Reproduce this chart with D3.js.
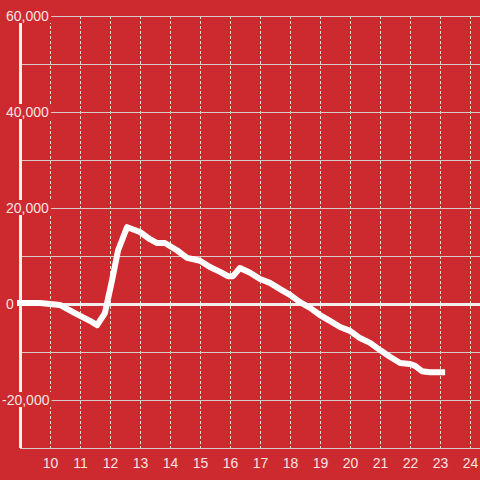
<!DOCTYPE html>
<html>
<head>
<meta charset="utf-8">
<script src="https://cdnjs.cloudflare.com/ajax/libs/d3/7.8.5/d3.min.js"></script>
<style>
  html, body { margin: 0; padding: 0; background: #cd2a30; }
  svg { display: block; }
  text { font-family: "Liberation Sans", Arial, sans-serif; font-size: 14px; fill: #f5e3e3; }
</style>
</head>
<body>
<svg id="chart" width="480" height="480"></svg>
<script>
// hour of day
var hours = [8.9, 9.67, 10.33, 10.83, 11.33, 11.57, 11.83, 12.07, 12.27, 12.57,
  13.0, 13.33, 13.57, 13.83, 14.23, 14.57, 15.0, 15.33, 15.67, 15.93,
  16.1, 16.33, 16.67, 17.0, 17.33, 17.67, 18.0, 18.33, 18.67, 19.0,
  19.33, 19.67, 20.0, 20.33, 20.67, 21.0, 21.33, 21.67, 22.0, 22.17,
  22.4, 22.67, 23.17];
// value
var values = [200, 200, -200, -1900, -3500, -4400, -1900, 5000, 11200, 16000,
  15000, 13500, 12700, 12700, 11200, 9600, 9000, 7700, 6700, 5800,
  5800, 7500, 6500, 5200, 4400, 3100, 1900, 400, -800, -2300,
  -3500, -4800, -5600, -7100, -8100, -9600, -11000, -12300, -12500, -12900,
  -14000, -14200, -14200];
var xTicks = [10, 11, 12, 13, 14, 15, 16, 17, 18, 19, 20, 21, 22, 23, 24];
var yGrid = [-30000, -20000, -10000, 0, 10000, 20000, 30000, 40000, 50000, 60000];
var yLabels = [-20000, 0, 20000, 40000, 60000];

var data = hours.map(function(h, i) { return { h: h, v: values[i] }; });

var svg = d3.select('#chart');
var x = d3.scaleLinear().domain([9, 24.3333]).range([20, 480]);
var y = d3.scaleLinear().domain([-30000, 60000]).range([448, 16]);

//vertical dotted grid
svg.append('g').selectAll('line').data(xTicks).enter()
  .append('line')
  .attr('x1', function(d) { return x(d) + 0.5; })
  .attr('x2', function(d) { return x(d) + 0.5; })
  .attr('y1', y(60000)).attr('y2', y(-30000))
  .style('stroke', '#e8d8d8').style('stroke-width', 1)
  .style('stroke-dasharray', '3,2');

//horizontal grid
svg.append('g').selectAll('line').data(yGrid.filter(function(d) { return d !== 0; })).enter()
  .append('line')
  .attr('x1', x(9)).attr('x2', 480)
  .attr('y1', function(d) { return y(d) + 0.5; })
  .attr('y2', function(d) { return y(d) + 0.5; })
  .style('stroke', '#d9c9c9').style('stroke-width', 1);

//zero line
svg.append('line')
  .attr('x1', x(9)).attr('x2', 480)
  .attr('y1', y(0) + 0.5).attr('y2', y(0) + 0.5)
  .style('stroke', '#f4eeee').style('stroke-width', 3);

//y axis line
svg.append('line')
  .attr('x1', x(9) + 0.5).attr('x2', x(9) + 0.5)
  .attr('y1', y(60000)).attr('y2', y(-30000))
  .style('stroke', '#f4eeee').style('stroke-width', 3);

//y labels with background
var fmt = d3.format(',');
var yl = svg.append('g').selectAll('g').data(yLabels).enter()
  .append('g')
  .attr('transform', function(d) { return 'translate(' + (d < 0 ? 2 : 6) + ',' + y(d) + ')'; });
yl.append('text')
  .attr('dy', '0.35em')
  .text(function(d) { return fmt(d).replace('−', '-'); });
yl.each(function() {
  var t = d3.select(this).select('text');
  var b = t.node().getBBox();
  d3.select(this).insert('rect', 'text')
    .attr('x', b.x - 2).attr('y', -8)
    .attr('width', b.width + 4).attr('height', 15)
    .style('fill', '#cd2a30');
});

//x labels
svg.append('g').selectAll('text').data(xTicks).enter()
  .append('text')
  .attr('x', function(d) { return x(d) + 0.5; })
  .attr('y', 463)
  .attr('dy', '0.35em')
  .attr('text-anchor', 'middle')
  .text(function(d) { return d; });

//data line
var line = d3.line()
  .x(function(d) { return x(d.h); })
  .y(function(d) { return y(d.v); });

svg.append('path')
  .datum(data)
  .attr('d', line)
  .style('fill', 'none')
  .style('stroke', '#ffffff')
  .style('stroke-width', 6)
  .style('stroke-linejoin', 'round');
</script>
</body>
</html>
